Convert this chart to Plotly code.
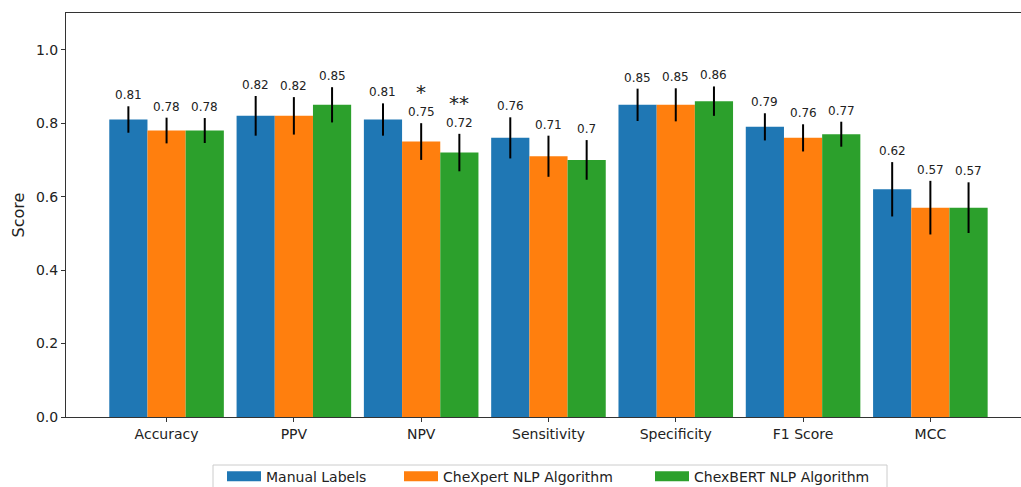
import plotly.graph_objects as go

categories = ["Accuracy", "PPV", "NPV", "Sensitivity", "Specificity", "F1 Score", "MCC"]
series_names = ["Manual Labels", "CheXpert NLP Algorithm", "ChexBERT NLP Algorithm"]
manual = [0.81, 0.82, 0.81, 0.76, 0.85, 0.79, 0.62]
chexpert = [0.78, 0.82, 0.75, 0.71, 0.85, 0.76, 0.57]
chexbert = [0.78, 0.85, 0.72, 0.70, 0.86, 0.77, 0.57]
manual_err = [0.036, 0.054, 0.044, 0.056, 0.044, 0.037, 0.074]
chexpert_err = [0.035, 0.051, 0.050, 0.056, 0.045, 0.037, 0.073]
chexbert_err = [0.034, 0.048, 0.051, 0.054, 0.040, 0.034, 0.069]
colors = ["#1f77b4", "#ff7f0e", "#2ca02c"]
# significance markers: (category, series index, marker)
significance = [("NPV", 1, "*"), ("NPV", 2, "**")]

values = [manual, chexpert, chexbert]
errors = [manual_err, chexpert_err, chexbert_err]
offsets = [-0.3, 0.0, 0.3]

W, H = 1030, 487
L, R, T, B = 66, 0, 13, 70
pw = W - L - R
ph = H - T - B


def px_x(p):
    return (p - L) / pw


def px_y(p):
    return (H - B - p) / ph


legend_names = ["legend", "legend2", "legend3"]
legend_px = [222, 399, 650]

fig = go.Figure()
for name, vals, errs, col, lg in zip(series_names, values, errors, colors, legend_names):
    fig.add_trace(go.Bar(
        x=categories, y=vals, name=name, marker_color=col,
        marker_line_width=0, showlegend=False,
        error_y=dict(type="data", array=errs, visible=True, color="black",
                     thickness=2, width=0),
    ))
    # legend proxy drawn as a thick rectangle-like swatch
    fig.add_trace(go.Scatter(
        x=[None], y=[None], mode="lines", name=name, legend=lg,
        line=dict(color=col, width=10), showlegend=True,
    ))

annotations = []
for si, (vals, errs) in enumerate(zip(values, errors)):
    for ci, (v, e) in enumerate(zip(vals, errs)):
        annotations.append(dict(
            x=ci + offsets[si], y=v + e, xref="x", yref="y",
            text=f"{v:g}", showarrow=False, yanchor="bottom", yshift=2,
            font=dict(size=12, color="#222", family="DejaVu Sans"),
        ))
for cat, si, mark in significance:
    ci = categories.index(cat)
    v = values[si][ci] + errors[si][ci]
    annotations.append(dict(
        x=ci + offsets[si], y=v, xref="x", yref="y",
        text=mark, showarrow=False, yanchor="bottom", yshift=17,
        font=dict(size=20, color="#222", family="DejaVu Sans"),
    ))

legend_common = dict(orientation="h", xanchor="left", yref="container", y=0.054,
                     yanchor="top", borderwidth=0, bgcolor="rgba(0,0,0,0)",
                     font=dict(size=14), itemwidth=34)
legends = {lg: dict(legend_common, x=px_x(p)) for lg, p in zip(legend_names, legend_px)}

fig.update_layout(
    width=W, height=H,
    margin=dict(l=L, r=R, t=T, b=B, autoexpand=False),
    plot_bgcolor="white", paper_bgcolor="white",
    barmode="group", bargap=0.1, bargroupgap=0,
    font=dict(family="DejaVu Sans", size=14, color="#222"),
    showlegend=True,
    annotations=annotations,
    shapes=[dict(type="rect", xref="paper", yref="paper",
                 x0=px_x(213), x1=px_x(887), y0=px_y(465), y1=px_y(500),
                 line=dict(color="#cccccc", width=1), fillcolor="rgba(0,0,0,0)")],
    xaxis=dict(type="category", range=[-0.79, -0.79 + pw / 127.3], showline=True,
               linecolor="#333", linewidth=1, mirror=True, ticks="outside", ticklen=4,
               tickcolor="#333", showgrid=False, tickfont=dict(size=14), automargin=False),
    yaxis=dict(range=[0, 1.1], tickvals=[0, 0.2, 0.4, 0.6, 0.8, 1.0], tickformat=".1f",
               showline=True, linecolor="#333", linewidth=1, ticks="outside", ticklen=4,
               tickcolor="#333", showgrid=False, zeroline=False, automargin=False,
               title=dict(text="Score", font=dict(size=16), standoff=7),
               tickfont=dict(size=14)),
    **legends,
)

fig.write_html("out.html", config={"displayModeBar": False},
               post_script="document.body.style.margin='0';document.body.style.overflow='hidden';")
